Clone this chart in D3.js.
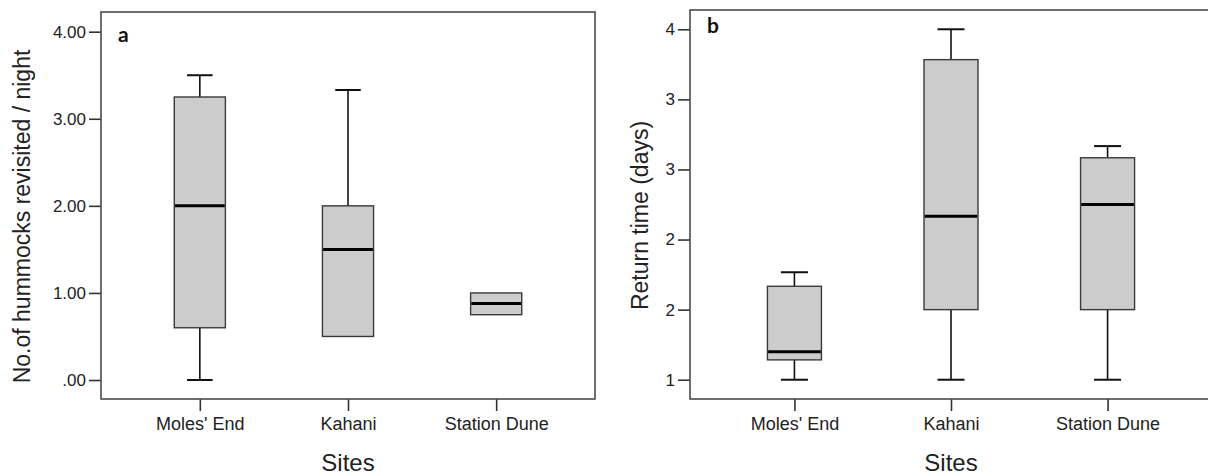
<!DOCTYPE html>
<html>
<head>
<meta charset="utf-8">
<script src="https://cdn.jsdelivr.net/npm/d3@7"></script>
<style>
  html, body { margin: 0; padding: 0; background: #fff; }
  svg { display: block; }
</style>
</head>
<body>
<svg id="chart" width="1208" height="475"></svg>
<script>
// Sites along the x axis of both panels
const categories = ["Moles' End", "Kahani", "Station Dune"];

// Panel a: hummocks revisited per night (five-number summaries per site)
const hummockMin    = [0.00, 0.50, 0.75];
const hummockQ1     = [0.60, 0.50, 0.75];
const hummockMedian = [2.00, 1.50, 0.88];
const hummockQ3     = [3.25, 2.00, 1.00];
const hummockMax    = [3.50, 3.33, 1.00];
const hummockTicks  = [0, 1, 2, 3, 4];

// Panel b: return time in days
const returnMin    = [1.00, 1.00, 1.00];
const returnQ1     = [1.17, 1.60, 1.60];
const returnMedian = [1.24, 2.40, 2.50];
const returnQ3     = [1.80, 3.74, 2.90];
const returnMax    = [1.92, 4.00, 3.00];
const returnTicks  = [1.0, 1.6, 2.2, 2.8, 3.4, 4.0];

const FONT = "'Liberation Sans', Arial, sans-serif";
const svg = d3.select("#chart");

function boxPanel(cfg) {
  const { left, right, top, bottom, yDomain, ticks, tickFormat,
          min, q1, median, q3, max, yTitle, titleX, letter, letterX, letterY } = cfg;

  const x = d3.scalePoint().domain(categories).range([left, right]).padding(0.667);
  const y = d3.scaleLinear().domain(yDomain).range([bottom, top]);
  const boxW = x.step() * 0.345;
  const capW = boxW / 2;

  const g = svg.append("g");

  // y axis ticks and labels
  const yAxis = g.append("g")
    .attr("transform", `translate(${left},0)`)
    .call(d3.axisLeft(y).tickValues(ticks).tickFormat(tickFormat).tickSize(12).tickPadding(3));
  yAxis.attr("font-family", FONT).attr("font-size", 17);
  yAxis.select(".domain").remove();
  yAxis.selectAll(".tick line").attr("stroke", "#333").attr("stroke-width", 1.6);
  yAxis.selectAll(".tick text").attr("fill", "#222");

  // x axis ticks and labels
  const xAxis = g.append("g")
    .attr("transform", `translate(0,${bottom})`)
    .call(d3.axisBottom(x).tickSize(12).tickPadding(6));
  xAxis.attr("font-family", FONT).attr("font-size", 18);
  xAxis.select(".domain").remove();
  xAxis.selectAll(".tick line").attr("stroke", "#333").attr("stroke-width", 1.6);
  xAxis.selectAll(".tick text").attr("fill", "#222");

  // frame
  g.append("rect")
    .attr("x", left).attr("y", top)
    .attr("width", right - left).attr("height", bottom - top)
    .attr("fill", "none").attr("stroke", "#4a4a4a").attr("stroke-width", 1.6);

  const data = categories.map((c, i) => ({ c, min: min[i], q1: q1[i], med: median[i], q3: q3[i], max: max[i] }));

  const box = g.selectAll(".box").data(data).join("g").attr("class", "box");

  // upper whiskers
  box.filter(d => d.max > d.q3).each(function(d) {
    const s = d3.select(this), cx = x(d.c);
    s.append("line").attr("x1", cx).attr("x2", cx).attr("y1", y(d.q3)).attr("y2", y(d.max))
      .attr("stroke", "#111").attr("stroke-width", 1.6);
    s.append("line").attr("x1", cx - capW / 2).attr("x2", cx + capW / 2).attr("y1", y(d.max)).attr("y2", y(d.max))
      .attr("stroke", "#111").attr("stroke-width", 2);
  });
  // lower whiskers
  box.filter(d => d.min < d.q1).each(function(d) {
    const s = d3.select(this), cx = x(d.c);
    s.append("line").attr("x1", cx).attr("x2", cx).attr("y1", y(d.q1)).attr("y2", y(d.min))
      .attr("stroke", "#111").attr("stroke-width", 1.6);
    s.append("line").attr("x1", cx - capW / 2).attr("x2", cx + capW / 2).attr("y1", y(d.min)).attr("y2", y(d.min))
      .attr("stroke", "#111").attr("stroke-width", 2);
  });

  // interquartile boxes
  box.append("rect")
    .attr("x", d => x(d.c) - boxW / 2)
    .attr("y", d => y(d.q3))
    .attr("width", boxW)
    .attr("height", d => y(d.q1) - y(d.q3))
    .attr("fill", "#cccccc").attr("stroke", "#3a3a3a").attr("stroke-width", 1.4);

  // medians
  box.append("line")
    .attr("x1", d => x(d.c) - boxW / 2 + 0.7).attr("x2", d => x(d.c) + boxW / 2 - 0.7)
    .attr("y1", d => y(d.med)).attr("y2", d => y(d.med))
    .attr("stroke", "#000").attr("stroke-width", 3);

  // axis titles
  g.append("text")
    .attr("transform", `translate(${titleX},${(top + bottom) / 2 + 11}) rotate(-90)`)
    .attr("text-anchor", "middle")
    .attr("font-family", FONT)
    .attr("font-size", 23).attr("fill", "#222")
    .text(yTitle);

  g.append("text")
    .attr("x", x(categories[1])).attr("y", 471)
    .attr("text-anchor", "middle")
    .attr("font-family", FONT)
    .attr("font-size", 24).attr("fill", "#222")
    .text("Sites");

  // panel letter
  g.append("text")
    .attr("x", letterX).attr("y", letterY)
    .attr("font-family", "Lato, 'Open Sans', sans-serif")
    .attr("font-weight", "bold")
    .attr("font-size", 21).attr("fill", "#111")
    .text(letter);
}

const fmt2 = v => d3.format(".2f")(v).replace(/^0\./, ".");

boxPanel({
  left: 101, right: 595, top: 12, bottom: 399,
  yDomain: [-0.218, 4.226],
  ticks: hummockTicks, tickFormat: fmt2,
  min: hummockMin, q1: hummockQ1, median: hummockMedian, q3: hummockQ3, max: hummockMax,
  yTitle: "No.of hummocks revisited / night", titleX: 30,
  letter: "a", letterX: 118, letterY: 42
});

boxPanel({
  left: 690, right: 1212, top: 10, bottom: 399,
  yDomain: [0.835, 4.165],
  ticks: returnTicks, tickFormat: d3.format(".0f"),
  min: returnMin, q1: returnQ1, median: returnMedian, q3: returnQ3, max: returnMax,
  yTitle: "Return time (days)", titleX: 648,
  letter: "b", letterX: 707, letterY: 33
});
</script>
</body>
</html>
